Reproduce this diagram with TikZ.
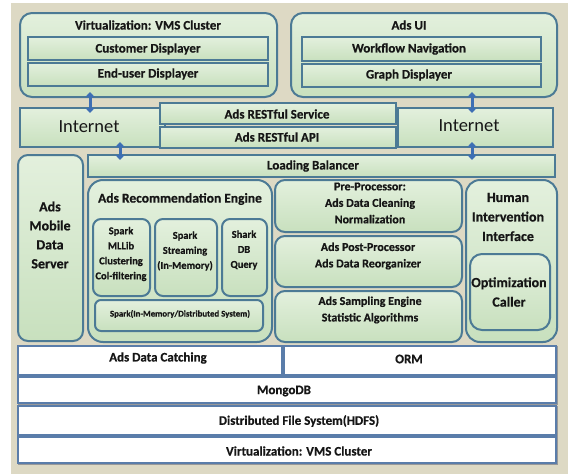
\documentclass[tikz,border=0pt]{standalone}
\usepackage{fontspec}
\setmainfont{Carlito}[BoldFeatures={FakeBold=0.6}]
\usetikzlibrary{arrows.meta}

\definecolor{paper}{HTML}{DDD9C4}
\definecolor{gtop}{HTML}{E3F0DD}
\definecolor{gbot}{HTML}{C8E0BE}
\definecolor{rim}{HTML}{4C7A95}
\definecolor{wrim}{HTML}{5A7DAA}
\definecolor{arr}{HTML}{3E6FB4}
\definecolor{ink}{HTML}{161616}

% box with corners (x1,y1)-(x2,y2), y counted downwards
\newcommand\boxat[6]{%
  \node[#6, minimum width={#4pt-#2pt}, minimum height={#5pt-#3pt}]
    (#1) at ({(#2+#4)/2},{(#3+#5)/2}) {};}

\tikzset{
  gbox/.style={draw=rim, line width=2pt, top color=gtop, bottom color=gbot,
    inner sep=0pt, outer sep=0pt},
  rgbox/.style={gbox, rounded corners=#1},
  wbox/.style={draw=wrim, line width=1.5pt, fill=white, inner sep=0pt, outer sep=0pt,
    preaction={draw=black!40, line width=1.5pt,
      transform canvas={shift={(1.2pt,-1.2pt)}}}},
  lbl/.style={font=\fontsize{13}{15}\selectfont\bfseries, text=ink, align=center, inner sep=0pt},
  biarrow/.style={draw=arr, line width=3pt,
    {Triangle[width=9pt,length=5pt]}-{Triangle[width=9pt,length=5pt]},
    shorten <=-5pt, shorten >=-5pt},
}

\begin{document}
\begin{tikzpicture}[x=1pt,y=-1pt]
\useasboundingbox (0,0) rectangle (568,474);
\fill[paper] (11,3) rectangle (568,474);

% --- client side
\boxat{vmsTop}{20}{13}{277}{97}{rgbox=12pt}
\boxat{cust}{28}{37}{268}{60}{gbox}
\boxat{endu}{28}{63}{268}{86}{gbox}
\node[lbl] (tVmsTop) at (148,25) {Virtualization: VMS Cluster};
\node[lbl] (tCust) at (148,49) {Customer Displayer};
\node[lbl] (tEndu) at (148,74) {End-user Displayer};

\boxat{adsui}{291}{13}{557}{97}{rgbox=12pt}
\boxat{wf}{302}{37}{541}{61}{gbox}
\boxat{gd}{302}{64}{541}{87}{gbox}
\node[lbl] (tAdsui) at (409,25) {Ads UI};
\node[lbl] (tWf) at (409,49) {Workflow Navigation};
\node[lbl] (tGd) at (409,75) {Graph Displayer};

% --- network layer
\boxat{inetL}{20}{108}{165}{147}{gbox}
\boxat{rest1}{160}{103}{396}{124}{gbox}
\boxat{rest2}{160}{127}{396}{148}{gbox}
\boxat{inetR}{398}{108}{553}{147}{gbox}
\node[lbl, font=\fontsize{18.5}{20}\selectfont] (tInetL) at (89,127) {Internet};
\node[lbl, font=\fontsize{18.5}{20}\selectfont] (tInetR) at (469,126) {Internet};
\node[lbl] (tRest1) at (277,114) {Ads RESTful Service};
\node[lbl] (tRest2) at (277,137) {Ads RESTful API};

\boxat{lb}{88}{155}{555}{177}{gbox}
\node[lbl] (tLb) at (313,166) {Loading Balancer};

% arrows between the layers
\coordinate (xa) at (90,0);
\coordinate (xb) at (120,0);
\coordinate (xc) at (472,0);
\draw[biarrow] (vmsTop.south -| xa) -- (inetL.north -| xa);
\draw[biarrow] (inetL.south -| xb) -- (lb.north -| xb);
\draw[biarrow] (adsui.south -| xc) -- (inetR.north -| xc);
\draw[biarrow] (inetR.south -| xc) -- (lb.north -| xc);

% --- services
\boxat{mobile}{18}{155}{83}{341}{rgbox=10pt}
\node[lbl, font=\fontsize{14}{19}\selectfont\bfseries] (tMobile) at (50,235)
  {Ads\\Mobile\\Data\\Server};

\boxat{rec}{88}{180}{272}{342}{rgbox=15pt}
\node[lbl, font=\fontsize{13.5}{15}\selectfont\bfseries] (tRec) at (180,199)
  {Ads Recommendation Engine};
\boxat{mllib}{93}{219}{150}{296}{rgbox=8pt}
\boxat{stream}{155}{219}{217}{296}{rgbox=8pt}
\boxat{shark}{222}{219}{267}{296}{rgbox=8pt}
\boxat{spim}{95}{300}{263}{331}{rgbox=6pt}
\node[lbl, font=\fontsize{10.5}{15}\selectfont\bfseries] (tMllib) at (121,254)
  {Spark\\MLLib\\Clustering\\Col-filtering};
\node[lbl, font=\fontsize{10.5}{15}\selectfont\bfseries] (tStream) at (185,251)
  {Spark\\Streaming\\(In-Memory)};
\node[lbl, font=\fontsize{10.5}{15}\selectfont\bfseries] (tShark) at (244,250)
  {Shark\\DB\\Query};
\node[lbl, font=\fontsize{8.8}{10}\selectfont\bfseries] (tSpim) at (180,314)
  {Spark(In-Memory/Distributed System)};

\boxat{pre}{275}{180}{462}{232}{rgbox=10pt}
\boxat{post}{275}{236}{462}{287}{rgbox=10pt}
\boxat{samp}{275}{291}{462}{342}{rgbox=10pt}
\node[lbl, font=\fontsize{12}{16.5}\selectfont\bfseries] (tPre) at (370,203)
  {Pre-Processor:\\Ads Data Cleaning\\Normalization};
\node[lbl, font=\fontsize{12}{16.5}\selectfont\bfseries] (tPost) at (368,256)
  {Ads Post-Processor\\Ads Data Reorganizer};
\node[lbl, font=\fontsize{12}{16.5}\selectfont\bfseries] (tSamp) at (370,310)
  {Ads Sampling Engine\\Statistic Algorithms};

\boxat{human}{466}{180}{557}{342}{rgbox=14pt}
\boxat{opt}{470}{254}{550}{330}{rgbox=12pt}
\node[lbl, font=\fontsize{14}{19.5}\selectfont\bfseries] (tHuman) at (508,217)
  {Human\\Intervention\\Interface};
\node[lbl, font=\fontsize{14}{19.5}\selectfont\bfseries] (tOpt) at (509,292)
  {Optimization\\Caller};

% --- storage stack
\boxat{adc}{18}{346}{282}{375}{wbox}
\boxat{orm}{284}{346}{556}{375}{wbox}
\boxat{mongo}{18}{377}{556}{403}{wbox}
\boxat{hdfs}{18}{406}{556}{435}{wbox}
\boxat{vmsBot}{18}{437}{556}{463}{wbox}
\node[lbl] (tAdc) at (158,358) {Ads Data Catching};
\node[lbl] (tOrm) at (409,359) {ORM};
\node[lbl] (tMongo) at (284,391) {MongoDB};
\node[lbl] (tHdfs) at (299,421) {Distributed File System(HDFS)};
\node[lbl] (tVmsBot) at (299,451) {Virtualization: VMS Cluster};
\end{tikzpicture}
\end{document}
